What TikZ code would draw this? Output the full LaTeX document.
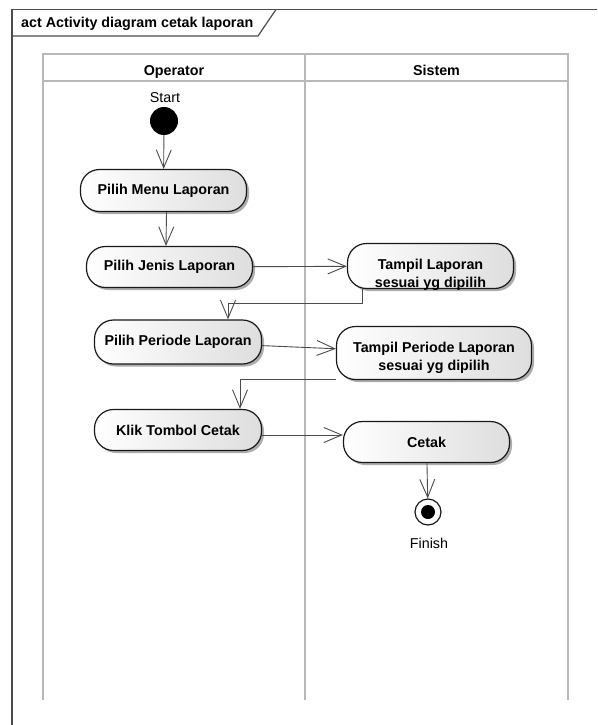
\documentclass[tikz,border=0pt]{standalone}
\usepackage{fontspec}
\setmainfont{Liberation Sans}
\usetikzlibrary{arrows.meta,shadows}

% two centred lines of an action, moved down by #1
\newcommand{\actlines}[3]{\raisebox{#1}[0pt][0pt]{\begin{tabular}{@{}c@{}}#2\\#3\end{tabular}}}

\begin{document}
\begin{tikzpicture}[x=1pt,y=-1pt,
  plaintext/.style={font=\fontsize{14.3}{18.5}\selectfont, inner sep=0pt},
  boldtext/.style={font=\bfseries\fontsize{14.3}{18.5}\selectfont, inner sep=0pt},
  actbox/.style={rectangle, draw=black!90, line width=1.2pt, rounded corners=19pt,
    left color=white, right color=black!13,
    drop shadow={shadow xshift=2.5pt, shadow yshift=-2.5pt, fill=black!40, opacity=0.8},
    font=\bfseries\fontsize{14.3}{18.5}\selectfont, inner sep=0pt},
  flow/.style={draw=black!70, line width=0.9pt, -{Straight Barb[length=18pt,width=15pt]}},
  lane/.style={draw=gray!55, line width=2.6pt},
  frameline/.style={draw=black!70, line width=1.2pt},
]
\useasboundingbox[fill=white] (0,0) rectangle (597,725);

% diagram frame and its name tab
\draw[frameline] (12,725) -- (12,9.5) -- (597,9.5);
\draw[frameline] (12,36) -- (258,36) -- (276,9.5);
\node[boldtext, anchor=base west] (title) at (21,28) {act Activity diagram cetak laporan};

% swimlanes
\draw[lane] (43,700) -- (43,54) -- (568,54) -- (568,700);
\draw[lane] (43,81) -- (568,81);
\draw[lane] (305,54) -- (305,700);
\node[boldtext, anchor=base] (laneop) at (174,75) {Operator};
\node[boldtext, anchor=base] (lanesys) at (436.5,75) {Sistem};

% start
\node[circle, fill=black, minimum size=28pt, inner sep=0pt] (start) at (164,121) {};
\node[plaintext, anchor=base] (startlbl) at (165,102) {Start};

% actions of the operator
\node[actbox, minimum width=166pt, minimum height=42pt] (menu) at (163.5,190.5) {Pilih Menu Laporan};
\node[actbox, minimum width=166pt, minimum height=41pt] (jenis) at (169.5,267) {Pilih Jenis Laporan};
\node[actbox, minimum width=167pt, minimum height=44pt] (pp) at (178,342) {Pilih Periode Laporan};
\node[actbox, minimum width=167pt, minimum height=41pt] (klik) at (178,430) {Klik Tombol Cetak};

% actions of the system
\node[actbox, minimum width=166pt, minimum height=45pt] (tl) at (430.5,266)
  {\actlines{-12.4pt}{Tampil Laporan}{sesuai yg dipilih}};
\node[actbox, minimum width=195pt, minimum height=53pt] (tp) at (434,353)
  {\actlines{-8.6pt}{Tampil Periode Laporan}{sesuai yg dipilih}};
\node[actbox, minimum width=166pt, minimum height=41pt] (cetak) at (426.5,442) {Cetak};

% final node
\node[circle, draw=black!90, line width=1.2pt, fill=white, minimum size=26pt, inner sep=0pt] (finish) at (428,512) {};
\node[circle, fill=black, minimum size=14pt, inner sep=0pt] (finishdot) at (finish) {};
\node[plaintext, anchor=base] (finishlbl) at (429,548) {Finish};

% control flows
\draw[flow] (start) -- (menu);
\draw[flow] ([xshift=3pt]menu.south) -- ([xshift=-3.5pt]jenis.north);
\draw[flow] (jenis) -- (tl);
\draw[flow] ([xshift=16pt]tl.south west) -- ++(0,14) -| ([xshift=50pt]pp.north);
\draw[flow] (pp) -- (tp);
\draw[flow] ([yshift=1pt]tp.south west) -| ([xshift=62pt]klik.north);
\draw[flow] ([yshift=-5pt]klik.east) -- ([yshift=-5pt]klik.east -| cetak.west);
\draw[flow] (cetak) -- (finish);
\end{tikzpicture}
\end{document}
